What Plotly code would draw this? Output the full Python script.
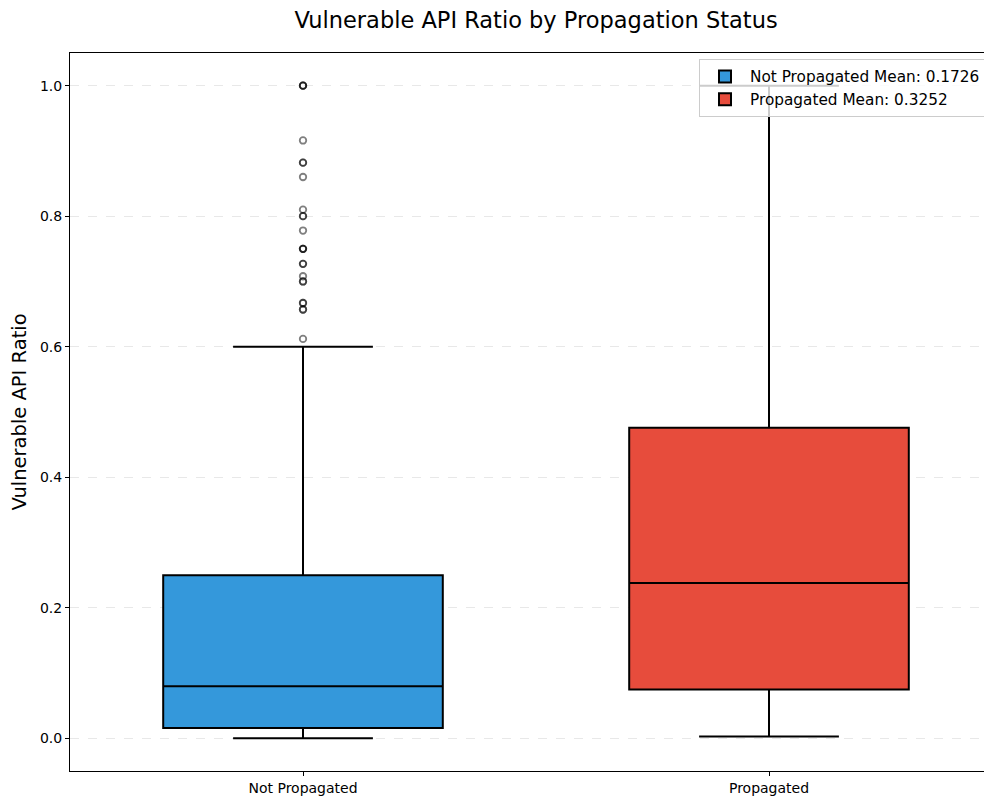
import plotly.graph_objects as go

categories = ["Not Propagated", "Propagated"]
positions = [0, 1]
q1 = [0.016, 0.075]
median = [0.080, 0.238]
q3 = [0.250, 0.476]
lower_whisker = [0.0, 0.003]
upper_whisker = [0.600, 1.0]
means = [0.1726, 0.3252]
colors = ["#3498db", "#e74c3c"]

# Outliers for "Not Propagated" (duplicates = overlapping darker markers)
outliers_np = [1.0, 1.0, 1.0, 0.916, 0.882, 0.882, 0.860, 0.810, 0.800, 0.800,
               0.778, 0.750, 0.750, 0.750, 0.727, 0.727, 0.708, 0.700, 0.700,
               0.667, 0.667, 0.657, 0.657, 0.612]

W, H = 984, 788  # page body has an 8px margin
L, T, B = 62, 45, 25
PW = W - L
PH = H - T - B
unit = 466.0

fig = go.Figure()
for i in range(2):
    fig.add_trace(go.Box(
        x=[positions[i]], q1=[q1[i]], median=[median[i]], q3=[q3[i]],
        lowerfence=[lower_whisker[i]], upperfence=[upper_whisker[i]],
        name=f"{categories[i]} Mean: {means[i]:.4f}",
        fillcolor=colors[i], line=dict(color="black", width=2),
        width=0.6, whiskerwidth=0.5, boxpoints=False, showlegend=True,
        hoverinfo="skip",
    ))

fig.add_trace(go.Scatter(
    x=[positions[0]] * len(outliers_np), y=outliers_np, mode="markers",
    marker=dict(symbol="circle-open", size=6.5, color="black", opacity=0.5,
                line=dict(width=1.8, color="black")),
    showlegend=False, hoverinfo="skip",
))

fig.update_layout(
    width=W, height=H,
    margin=dict(l=L, r=0, t=T, b=B, autoexpand=False),
    paper_bgcolor="white", plot_bgcolor="white",
    font=dict(family="DejaVu Sans", color="black"),
    title=dict(text="Vulnerable API Ratio by Propagation Status", x=528 / W, xanchor="center",
               y=1 - 12 / H, yanchor="middle", font=dict(size=22.5)),
    legend=dict(x=(699 - 70) / PW, xanchor="left", y=(771 - 59) / PH, yanchor="top",
                bgcolor="rgba(255,255,255,0.8)", bordercolor="#cccccc", borderwidth=1,
                font=dict(size=15.3), traceorder="normal", tracegroupgap=0,
                itemwidth=40),
    showlegend=True,
)
fig.update_xaxes(
    range=[-0.5, -0.5 + PW / unit], tickvals=positions, ticktext=categories,
    showgrid=False, zeroline=False, showline=True, linecolor="black", linewidth=1,
    mirror=True, ticks="outside", ticklen=4, tickcolor="black",
    tickfont=dict(size=14),
)
fig.update_yaxes(
    range=[-0.05, 1.05], tickvals=[0, 0.2, 0.4, 0.6, 0.8, 1.0],
    ticktext=["0.0", "0.2", "0.4", "0.6", "0.8", "1.0"],
    showgrid=True, gridcolor="rgba(180,180,180,0.3)", griddash="dash", gridwidth=1,
    zeroline=False, showline=True, linecolor="black", linewidth=1,
    ticks="outside", ticklen=4, tickcolor="black", tickfont=dict(size=14),
    title=dict(text="Vulnerable API Ratio", font=dict(size=19.5), standoff=10),
)

fig.write_html("out.html")
